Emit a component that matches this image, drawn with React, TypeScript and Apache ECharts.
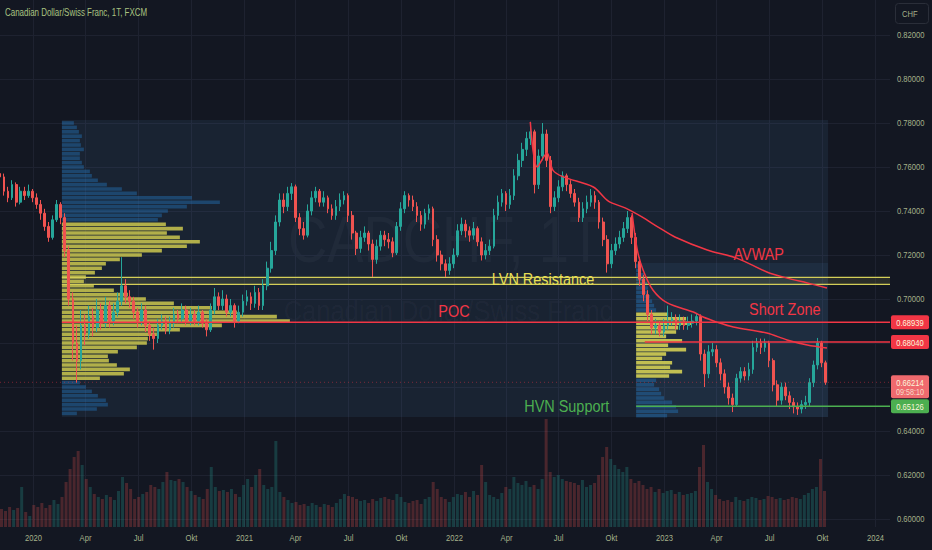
import React, { useEffect, useRef } from "react";
import * as echarts from "echarts";

const FONT = '"Liberation Sans", Arimo, Arial, sans-serif';
const SQUEEZE = 0.8;
const BG = "#131722";
const AXIS_TEXT = "#a5b28a";
const GRID_LINE = "#1e2230";
const UP = "#26a69a";
const DOWN = "#ef5350";
const RED = "#f23645";
const GREEN = "#4caf50";
const YELLOW = "#e6df55";

// the canvas is shifted up by OFFSET so the 0.58..0.84 price grid lines up with the page
const OFFSET = 9;

const DAY = 86400000;
const utc = (s: string) => Date.parse(s + "T00:00:00Z");
const X_MIN = utc("2019-11-08");
const X_MAX = utc("2024-01-25");

// weekly candles, first week starting 2019-11-08
const firstCandleDate = "2019-11-08";
const firstOpen = 0.757;
const closes = [
  0.7555, 0.749, 0.746, 0.752, 0.744, 0.749, 0.747, 0.749, 0.746, 0.743,
  0.739, 0.733, 0.728, 0.736, 0.743, 0.737, 0.722, 0.7, 0.68, 0.672,
  0.688, 0.684, 0.692, 0.687, 0.695, 0.689, 0.697, 0.69, 0.694, 0.699,
  0.706, 0.701, 0.699, 0.694, 0.69, 0.695, 0.688, 0.684, 0.682, 0.688,
  0.69, 0.686, 0.689, 0.693, 0.691, 0.695, 0.69, 0.693, 0.69, 0.694,
  0.689, 0.686, 0.695, 0.701, 0.697, 0.7, 0.694, 0.697, 0.69, 0.694,
  0.699, 0.701, 0.698, 0.703, 0.697, 0.706, 0.714, 0.722, 0.735, 0.745,
  0.742, 0.748, 0.751, 0.737, 0.732, 0.729, 0.74, 0.746, 0.749, 0.744,
  0.746, 0.741, 0.738, 0.742, 0.745, 0.747, 0.738, 0.73, 0.723, 0.728,
  0.73, 0.725, 0.718, 0.724, 0.729, 0.727, 0.726, 0.721, 0.733, 0.741,
  0.747, 0.745, 0.742, 0.738, 0.734, 0.739, 0.741, 0.727, 0.72, 0.716,
  0.713, 0.716, 0.72, 0.731, 0.734, 0.731, 0.729, 0.732, 0.726, 0.72,
  0.722, 0.724, 0.738, 0.744, 0.748, 0.743, 0.747, 0.756, 0.763, 0.768,
  0.773, 0.776, 0.752, 0.765, 0.775, 0.763, 0.742, 0.746, 0.751, 0.756,
  0.752, 0.748, 0.744, 0.737, 0.741, 0.744, 0.747, 0.744, 0.735, 0.727,
  0.716, 0.722, 0.725, 0.728, 0.732, 0.737, 0.728, 0.717, 0.709, 0.702,
  0.693, 0.687, 0.688, 0.685, 0.688, 0.69, 0.691, 0.688, 0.69, 0.688,
  0.689, 0.69, 0.692, 0.675, 0.666, 0.676, 0.677, 0.671, 0.666, 0.66,
  0.655, 0.652, 0.664, 0.667, 0.665, 0.668, 0.678, 0.68, 0.678, 0.68,
  0.672, 0.661, 0.654, 0.66, 0.656, 0.653, 0.651, 0.65, 0.652, 0.653,
  0.662, 0.67, 0.68, 0.671, 0.66214,
];
const highs = [
  0.759, 0.757, 0.751, 0.754, 0.753, 0.751, 0.751, 0.752, 0.75, 0.748,
  0.745, 0.741, 0.735, 0.738, 0.745, 0.744, 0.739, 0.724, 0.703, 0.688,
  0.695, 0.693, 0.697, 0.696, 0.7, 0.698, 0.701, 0.699, 0.698, 0.703,
  0.719, 0.709, 0.704, 0.701, 0.696, 0.698, 0.697, 0.69, 0.687, 0.691,
  0.693, 0.692, 0.692, 0.696, 0.695, 0.698, 0.697, 0.696, 0.695, 0.697,
  0.695, 0.691, 0.698, 0.705, 0.703, 0.704, 0.702, 0.7, 0.698, 0.697,
  0.702, 0.704, 0.703, 0.706, 0.705, 0.709, 0.717, 0.726, 0.738, 0.748,
  0.748, 0.751, 0.7527, 0.752, 0.739, 0.735, 0.743, 0.749, 0.751, 0.75,
  0.749, 0.747, 0.743, 0.745, 0.748, 0.749, 0.748, 0.74, 0.731, 0.731,
  0.733, 0.731, 0.727, 0.727, 0.731, 0.731, 0.73, 0.728, 0.735, 0.744,
  0.749, 0.748, 0.747, 0.744, 0.74, 0.741, 0.743, 0.742, 0.729, 0.722,
  0.718, 0.719, 0.723, 0.734, 0.737, 0.736, 0.733, 0.735, 0.733, 0.728,
  0.725, 0.727, 0.741, 0.747, 0.75, 0.749, 0.75, 0.759, 0.766, 0.771,
  0.776, 0.7805, 0.777, 0.768, 0.78, 0.777, 0.765, 0.749, 0.754, 0.758,
  0.757, 0.754, 0.75, 0.746, 0.744, 0.747, 0.75, 0.749, 0.745, 0.737,
  0.729, 0.725, 0.728, 0.731, 0.735, 0.74, 0.738, 0.73, 0.719, 0.711,
  0.704, 0.695, 0.691, 0.69, 0.691, 0.697, 0.694, 0.693, 0.693, 0.692,
  0.692, 0.693, 0.6936, 0.693, 0.677, 0.679, 0.68, 0.679, 0.673, 0.668,
  0.662, 0.657, 0.666, 0.669, 0.669, 0.671, 0.681, 0.6823, 0.682, 0.682,
  0.681, 0.673, 0.663, 0.662, 0.662, 0.658, 0.655, 0.653, 0.654, 0.656,
  0.664, 0.672, 0.6823, 0.681, 0.672,
];
const lows = [
  0.753, 0.747, 0.744, 0.745, 0.742, 0.743, 0.745, 0.746, 0.744, 0.741,
  0.736, 0.731, 0.726, 0.727, 0.735, 0.734, 0.719, 0.697, 0.672, 0.662,
  0.668, 0.679, 0.682, 0.683, 0.685, 0.686, 0.687, 0.687, 0.688, 0.692,
  0.697, 0.698, 0.696, 0.691, 0.687, 0.688, 0.685, 0.681, 0.677, 0.68,
  0.686, 0.684, 0.684, 0.687, 0.689, 0.689, 0.688, 0.688, 0.688, 0.688,
  0.687, 0.683, 0.685, 0.693, 0.695, 0.695, 0.692, 0.692, 0.687, 0.689,
  0.692, 0.697, 0.695, 0.696, 0.695, 0.695, 0.704, 0.712, 0.72, 0.733,
  0.739, 0.74, 0.745, 0.735, 0.729, 0.727, 0.728, 0.738, 0.744, 0.742,
  0.742, 0.739, 0.736, 0.736, 0.74, 0.743, 0.735, 0.727, 0.72, 0.721,
  0.726, 0.722, 0.71, 0.716, 0.722, 0.724, 0.723, 0.719, 0.72, 0.731,
  0.739, 0.742, 0.74, 0.735, 0.731, 0.732, 0.736, 0.724, 0.717, 0.713,
  0.71, 0.711, 0.714, 0.719, 0.729, 0.728, 0.726, 0.727, 0.724, 0.7175,
  0.718, 0.72, 0.723, 0.736, 0.742, 0.74, 0.741, 0.745, 0.754, 0.76,
  0.765, 0.77, 0.748, 0.75, 0.763, 0.76, 0.739, 0.74, 0.744, 0.749,
  0.749, 0.746, 0.742, 0.735, 0.735, 0.739, 0.742, 0.741, 0.732, 0.724,
  0.712, 0.714, 0.72, 0.723, 0.726, 0.73, 0.725, 0.714, 0.706, 0.699,
  0.69, 0.684, 0.684, 0.683, 0.683, 0.686, 0.688, 0.686, 0.686, 0.686,
  0.686, 0.687, 0.688, 0.672, 0.66, 0.664, 0.674, 0.669, 0.663, 0.657,
  0.652, 0.6486, 0.651, 0.662, 0.663, 0.663, 0.666, 0.676, 0.675, 0.676,
  0.669, 0.658, 0.651, 0.652, 0.654, 0.65, 0.648, 0.6473, 0.648, 0.65,
  0.651, 0.66, 0.668, 0.669, 0.661,
];
const volumes = [
  18, 16, 20, 17, 19, 40, 15, 11, 22, 20,
  24, 19, 22, 27, 23, 30, 45, 58, 70, 76,
  62, 48, 40, 33, 30, 28, 32, 30, 27, 36,
  50, 44, 38, 28, 30, 33, 35, 42, 40, 38,
  45, 55, 47, 46, 48, 45, 40, 36, 32, 30,
  28, 38, 60, 40, 36, 37, 35, 38, 33, 30,
  42, 48, 40, 52, 58, 42, 38, 40, 86, 35,
  30, 27, 24, 25, 22, 23, 21, 24, 22, 20,
  23, 22, 20, 24, 28, 33, 31, 30, 28, 26,
  27, 24, 28, 26, 29, 30, 28, 27, 33, 30,
  25, 24, 26, 27, 23, 28, 30, 45, 38, 30,
  28, 25, 30, 33, 32, 35, 30, 36, 32, 62,
  45, 32, 30, 28, 34, 40, 38, 50, 44, 42,
  46, 40, 42, 38, 48, 108, 55, 50, 52, 48,
  46, 45, 44, 42, 47, 40, 42, 44, 52, 70,
  80, 68, 62, 58, 55, 60, 48, 44, 46, 42,
  38, 40, 35, 38, 34, 36, 37, 33, 35, 32,
  33, 34, 36, 60, 82, 45, 38, 32, 28, 26,
  27, 25, 30, 27, 26, 28, 30, 29, 27, 28,
  31, 30, 28, 29, 27, 28, 30, 29, 28, 32,
  34, 38, 40, 68, 36,
];

const tickDates = [
  "2020-01-01", "2020-04-01", "2020-07-01", "2020-10-01",
  "2021-01-01", "2021-04-01", "2021-07-01", "2021-10-01",
  "2022-01-01", "2022-04-01", "2022-07-01", "2022-10-01",
  "2023-01-01", "2023-04-01", "2023-07-01", "2023-10-01",
  "2024-01-01",
];
const tickLabels = [
  "2020", "Apr", "Jul", "Okt", "2021", "Apr", "Jul", "Okt",
  "2022", "Apr", "Jul", "Okt", "2023", "Apr", "Jul", "Okt", "2024",
];
// price scale labels that are not hidden behind a price tag
const priceTickLabels = [0.6, 0.62, 0.64, 0.7, 0.72, 0.74, 0.76, 0.78, 0.8, 0.82];

// anchored VWAP from the 2022 high
const avwapDates = [
  "2022-05-13", "2022-05-25", "2022-06-11", "2022-06-21", "2022-07-09",
  "2022-08-30", "2022-09-25", "2022-10-24", "2022-11-22", "2022-12-20",
  "2023-01-18", "2023-03-15", "2023-05-05", "2023-06-26", "2023-07-31",
  "2023-09-04", "2023-10-08",
];
const avwapPrices = [
  0.7805, 0.76, 0.7664, 0.7586, 0.7555,
  0.7509, 0.7445, 0.7414, 0.7373, 0.7327,
  0.7282, 0.7223, 0.7186, 0.7123, 0.7095,
  0.7073, 0.705,
];
// anchored VWAP from the November 2022 high
const avwap2Dates = [
  "2022-11-05", "2022-11-14", "2022-11-24", "2022-12-11", "2023-01-05",
  "2023-02-19", "2023-03-08", "2023-04-01", "2023-04-29", "2023-06-26",
  "2023-07-31", "2023-09-04", "2023-10-08",
];
const avwap2Prices = [
  0.7391, 0.7223, 0.7132, 0.7041, 0.6982,
  0.6941, 0.6918, 0.6895, 0.6873, 0.6845,
  0.6814, 0.6791, 0.6777,
];

// volume profiles (rows of 0.002, from the base price upwards)
const PROFILE_STEP = 0.002;
const leftProfileStart = "2020-02-23";
const leftProfileBase = 0.647;
const leftValueArea = [0.663, 0.735];
const leftProfileVol = [
  15, 35, 46, 44, 36, 30, 24, 18, 38, 62,
  68, 55, 47, 46, 56, 75, 85, 86, 95, 118,
  160, 228, 215, 175, 150, 112, 84, 66, 52, 32,
  22, 24, 33, 40, 44, 58, 80, 100, 125, 138,
  118, 105, 121, 104, 96, 100, 106, 125, 158, 130,
  75, 60, 45, 36, 30, 28, 22, 20, 18, 18,
  22, 19, 18, 20, 17, 15, 12,
];
const rightProfileStart = "2022-11-12";
const rightProfileBase = 0.646;
const rightValueArea = [0.664, 0.694];
const rightProfileVol = [
  31, 42, 40, 36, 28, 25, 23, 18, 20, 33,
  46, 34, 36, 26, 30, 50, 32, 46, 30, 40,
  42, 55, 50, 32, 20, 18, 16, 14, 12, 12,
  11, 9, 8, 5, 3,
];

const rangeEnd = "2023-10-10";
const leftRange = [0.64636, 0.78136];
const rightRange = [0.64636, 0.71636];

const lvnBand = [0.70668, 0.70986];
const pocPrice = 0.68939;
const shortPrice = 0.6804;
const shortStart = "2022-11-27";
const hvnPrice = 0.65126;
const hvnStart = "2022-11-12";
const lastPrice = 0.66214;

const noteTexts = ["AVWAP", "LVN Resistance", "POC", "Short Zone", "HVN Support"];
const noteDates = ["2023-06-12", "2022-06-04", "2022-01-01", "2023-07-27", "2022-07-15"];
const notePrices = [0.7205, 0.7091, 0.6946, 0.6955, 0.6514];
const noteColors = [RED, YELLOW, RED, RED, GREEN];

const tagPrices = [pocPrice, shortPrice, lastPrice, hvnPrice];
const tagColors = [RED, RED, "#ef6a6e", GREEN];
const tagSubTexts = ["", "", "09:58:10", ""];

const PROFILE_PX = 1;

function squeezedText(x: number, y: number, text: string, size: number, fill: string, align = "center", scale = SQUEEZE) {
  return {
    type: "text",
    x,
    y,
    scaleX: scale,
    style: { text, x: 0, y: 0, align, verticalAlign: "middle", fill, font: `${size}px ${FONT}` },
  };
}

function profileData(start: string, base: number, vols: number[], va: number[]) {
  const t = utc(start);
  return vols.map((v, k) => {
    const lo = base + k * PROFILE_STEP;
    const hi = lo + PROFILE_STEP;
    const mid = (lo + hi) / 2;
    return [t, lo, hi, v, mid >= va[0] && mid <= va[1] ? 1 : 0];
  });
}

function buildOption() {
  const t0 = utc(firstCandleDate);
  const candles = closes.map((c, i) => {
    const o = i === 0 ? firstOpen : closes[i - 1];
    return [t0 + i * 7 * DAY, o, c, lows[i], highs[i]];
  });
  const vols = volumes.map((v, i) => {
    const o = i === 0 ? firstOpen : closes[i - 1];
    const up = closes[i] >= o;
    return {
      value: [t0 + i * 7 * DAY, v],
      itemStyle: { color: up ? "rgba(38,166,154,0.26)" : "rgba(239,83,80,0.25)" },
    };
  });

  const profileItem = (yellow: string, blue: string) => (params: any, api: any) => {
    const a = api.coord([api.value(0), api.value(1)]);
    const b = api.coord([api.value(0), api.value(2)]);
    const len = api.value(3) * PROFILE_PX;
    return {
      type: "rect",
      shape: { x: a[0], y: b[1] + 0.4, width: len, height: Math.max(0.6, a[1] - b[1] - 0.8) },
      style: { fill: api.value(4) ? yellow : blue },
    };
  };

  const levelLine = (start: number, price: number, color: string, width: number, z: number) => ({
    type: "line",
    xAxisIndex: 0,
    yAxisIndex: 0,
    data: [
      [start, price],
      [X_MAX, price],
    ],
    showSymbol: false,
    symbol: "none",
    silent: true,
    lineStyle: { color, width },
    z,
  });

  return {
    animation: false,
    backgroundColor: BG,
    grid: [
      { left: 0, top: 0, width: 890, height: 572, outerBoundsMode: "none", containLabel: false },
      { left: 0, top: 400 + OFFSET, width: 890, height: 127, outerBoundsMode: "none", containLabel: false },
    ],
    xAxis: [
      { type: "time", gridIndex: 0, min: X_MIN, max: X_MAX, show: false },
      { type: "time", gridIndex: 1, min: X_MIN, max: X_MAX, show: false },
    ],
    yAxis: [
      {
        type: "value",
        gridIndex: 0,
        position: "right",
        min: 0.58,
        max: 0.84,
        interval: 0.02,
        axisLine: { show: false },
        axisTick: { show: false },
        axisLabel: { show: false },
        splitLine: { lineStyle: { color: GRID_LINE, width: 1 } },
      },
      { type: "value", gridIndex: 1, min: 0, max: 127, show: false },
    ],
    graphic: [
      {
        type: "text",
        z: 0,
        silent: true,
        x: 445,
        y: 240 + OFFSET,
        scaleX: 0.85,
        style: {
          text: "CADCHF, 1T",
          x: 0,
          y: 0,
          align: "center",
          verticalAlign: "middle",
          font: `64px ${FONT}`,
          fill: "rgba(200,210,225,0.045)",
        },
      },
      {
        type: "text",
        z: 0,
        silent: true,
        x: 448,
        y: 311 + OFFSET,
        scaleX: 0.85,
        style: {
          text: "Canadian Dollar/Swiss Franc",
          x: 0,
          y: 0,
          align: "center",
          verticalAlign: "middle",
          font: `30px ${FONT}`,
          fill: "rgba(200,210,225,0.045)",
        },
      },
      { ...squeezedText(5, 13 + OFFSET, "Canadian Dollar/Swiss Franc, 1T, FXCM", 10.2, "#a9c381", "left", 0.78), z: 20 },
      {
        type: "rect",
        z: 20,
        shape: { x: 895.5, y: 3.5 + OFFSET, width: 33, height: 20, r: 3 },
        style: { fill: BG, stroke: "#2a2e39", lineWidth: 1 },
      },
      { ...squeezedText(902, 13.5 + OFFSET, "CHF", 9.5, AXIS_TEXT, "left"), z: 21 },
    ],
    series: [
      // quarter ticks: vertical grid lines and date labels
      {
        type: "custom",
        xAxisIndex: 1,
        yAxisIndex: 1,
        silent: true,
        z: 0,
        data: tickDates.map((d, i) => [utc(d), i]),
        renderItem: (params: any, api: any) => {
          const cs = params.coordSys;
          const x = Math.round(api.coord([api.value(0), 0])[0]) + 0.5;
          const bottom = cs.y + cs.height;
          return {
            type: "group",
            children: [
              {
                type: "line",
                shape: { x1: x, y1: OFFSET, x2: x, y2: bottom },
                style: { stroke: GRID_LINE, lineWidth: 1 },
              },
              squeezedText(x, bottom + 11, tickLabels[api.value(1)], 9.5, AXIS_TEXT),
            ],
          };
        },
      },
      // price scale labels
      {
        type: "custom",
        xAxisIndex: 0,
        yAxisIndex: 0,
        silent: true,
        z: 1,
        data: priceTickLabels.map((p) => [X_MAX, p]),
        renderItem: (params: any, api: any) => {
          const c = api.coord([api.value(0), api.value(1)]);
          return squeezedText(c[0] + 7, c[1], api.value(1).toFixed(5), 9.5, AXIS_TEXT, "left");
        },
      },
      // profile range boxes
      {
        type: "custom",
        xAxisIndex: 0,
        yAxisIndex: 0,
        silent: true,
        z: 1,
        data: [
          [utc(leftProfileStart), leftRange[0], utc(rangeEnd), leftRange[1]],
          [utc(rightProfileStart), rightRange[0], utc(rangeEnd), rightRange[1]],
        ],
        renderItem: (params: any, api: any) => {
          const a = api.coord([api.value(0), api.value(1)]);
          const b = api.coord([api.value(2), api.value(3)]);
          return {
            type: "rect",
            shape: { x: a[0], y: b[1], width: b[0] - a[0], height: a[1] - b[1] },
            style: { fill: "rgba(70,120,170,0.12)" },
          };
        },
      },
      // left volume profile
      {
        type: "custom",
        xAxisIndex: 0,
        yAxisIndex: 0,
        silent: true,
        z: 2,
        data: profileData(leftProfileStart, leftProfileBase, leftProfileVol, leftValueArea),
        renderItem: profileItem("rgba(215,210,80,0.8)", "rgba(35,120,190,0.42)"),
      },
      // right volume profile
      {
        type: "custom",
        xAxisIndex: 0,
        yAxisIndex: 0,
        silent: true,
        z: 2,
        data: profileData(rightProfileStart, rightProfileBase, rightProfileVol, rightValueArea),
        renderItem: profileItem("rgba(220,215,85,0.86)", "rgba(35,120,190,0.42)"),
      },
      // LVN resistance band
      {
        type: "custom",
        xAxisIndex: 0,
        yAxisIndex: 0,
        silent: true,
        z: 3,
        data: [[utc(leftProfileStart), lvnBand[0], X_MAX, lvnBand[1]]],
        renderItem: (params: any, api: any) => {
          const a = api.coord([api.value(0), api.value(1)]);
          const b = api.coord([api.value(2), api.value(3)]);
          return {
            type: "group",
            children: [
              {
                type: "rect",
                shape: { x: a[0], y: b[1], width: b[0] - a[0], height: a[1] - b[1] },
                style: { fill: "rgba(200,195,90,0.13)" },
              },
              {
                type: "line",
                shape: { x1: a[0], y1: b[1], x2: b[0], y2: b[1] },
                style: { stroke: "#d4ce58", lineWidth: 1.3 },
              },
              {
                type: "line",
                shape: { x1: a[0], y1: a[1], x2: b[0], y2: a[1] },
                style: { stroke: "#d4ce58", lineWidth: 1.3 },
              },
            ],
          };
        },
      },
      // volume
      {
        type: "bar",
        xAxisIndex: 1,
        yAxisIndex: 1,
        silent: true,
        barWidth: 3,
        z: 2,
        data: vols,
      },
      // price candles
      {
        type: "candlestick",
        xAxisIndex: 0,
        yAxisIndex: 0,
        silent: true,
        barWidth: 2.2,
        z: 4,
        encode: { x: 0, y: [1, 2, 3, 4] },
        itemStyle: {
          color: UP,
          color0: DOWN,
          borderColor: UP,
          borderColor0: DOWN,
          borderWidth: 1,
        },
        data: candles,
      },
      // current price dotted line
      {
        type: "line",
        xAxisIndex: 0,
        yAxisIndex: 0,
        data: [
          [X_MIN, lastPrice],
          [X_MAX, lastPrice],
        ],
        showSymbol: false,
        symbol: "none",
        silent: true,
        lineStyle: { color: "rgba(242,54,69,0.45)", width: 1, type: [1, 3] },
        z: 5,
      },
      levelLine(utc(leftProfileStart), pocPrice, RED, 1.5, 5),
      levelLine(utc(shortStart), shortPrice, RED, 1.5, 5),
      levelLine(utc(hvnStart), hvnPrice, GREEN, 1.3, 5),
      {
        type: "line",
        xAxisIndex: 0,
        yAxisIndex: 0,
        data: avwapDates.map((d, i) => [utc(d), avwapPrices[i]]),
        showSymbol: false,
        symbol: "none",
        smooth: 0.3,
        silent: true,
        lineStyle: { color: RED, width: 1.5 },
        z: 6,
      },
      {
        type: "line",
        xAxisIndex: 0,
        yAxisIndex: 0,
        data: avwap2Dates.map((d, i) => [utc(d), avwap2Prices[i]]),
        showSymbol: false,
        symbol: "none",
        smooth: 0.3,
        silent: true,
        lineStyle: { color: RED, width: 1.5 },
        z: 6,
      },
      // annotations
      {
        type: "custom",
        xAxisIndex: 0,
        yAxisIndex: 0,
        silent: true,
        z: 8,
        data: noteDates.map((d, i) => [utc(d), notePrices[i], i]),
        renderItem: (params: any, api: any) => {
          const c = api.coord([api.value(0), api.value(1)]);
          const i = api.value(2);
          return squeezedText(c[0], c[1], noteTexts[i], 17, noteColors[i], "center", 0.85);
        },
      },
      // price tags on the scale
      {
        type: "custom",
        xAxisIndex: 0,
        yAxisIndex: 0,
        silent: true,
        z: 10,
        data: tagPrices.map((p, i) => [X_MAX, p, i]),
        renderItem: (params: any, api: any) => {
          const c = api.coord([api.value(0), api.value(1)]);
          const i = api.value(2);
          const sub = tagSubTexts[i];
          const x = c[0] + 1;
          const h = sub ? 23 : 14;
          const children: any[] = [
            {
              type: "rect",
              shape: { x, y: c[1] - 7, width: 38, height: h, r: 2 },
              style: { fill: tagColors[i] },
            },
            squeezedText(x + 19, c[1] + 0.5, tagPrices[i].toFixed(5), 9.5, "#fbf6dc"),
          ];
          if (sub) children.push(squeezedText(x + 19, c[1] + 10, sub, 9, "#f7dcc8"));
          return { type: "group", children };
        },
      },
    ],
  };
}

export default function App() {
  const ref = useRef<HTMLDivElement>(null);
  useEffect(() => {
    if (!ref.current) return;
    const chart = echarts.init(ref.current, null, { renderer: "svg" });
    chart.setOption(buildOption() as any);
    return () => chart.dispose();
  }, []);
  return (
    <div style={{ position: "fixed", left: 0, top: 0, width: 932, height: 550, overflow: "hidden", background: BG }}>
      <div
        ref={ref}
        style={{ position: "absolute", left: 0, top: -OFFSET, width: 932, height: 580 }}
      />
    </div>
  );
}
